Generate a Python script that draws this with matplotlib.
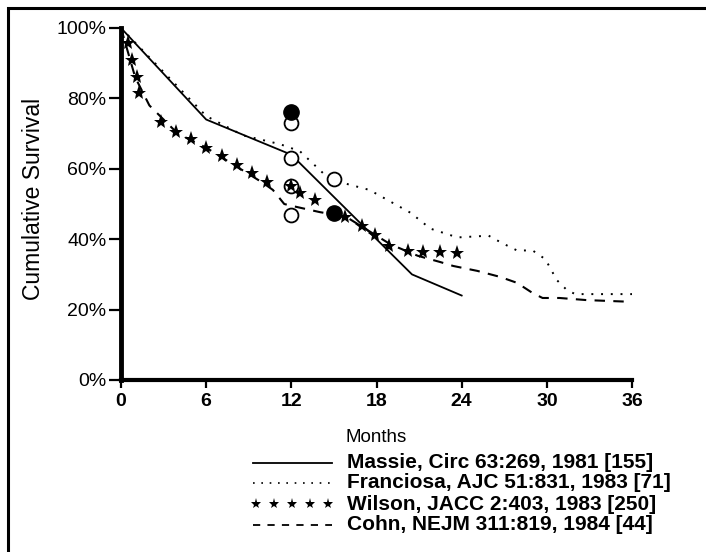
import matplotlib
matplotlib.use("Agg")
import matplotlib.pyplot as plt
import numpy as np
from matplotlib.lines import Line2D
from matplotlib.patches import Rectangle

plt.rcParams['font.family'] = ['Liberation Sans', 'DejaVu Sans']

# Data
massie_m = [0, 6, 12, 20.5, 24]
massie_s = [100, 74, 64, 30, 24]

franc_m = [0, 6, 8.6, 11.2, 12.6, 14.7, 17.5, 20.4, 21.8, 23.7, 25.9, 26.8, 27.9, 29.0, 29.9, 30.7, 31.4, 32.0, 36]
franc_s = [100, 75, 69.5, 67, 65, 57, 54, 47.5, 43, 40.5, 41, 39, 36.8, 36.8, 34.3, 28.4, 25.6, 24.4, 24.4]

wilson_m = [0.5, 0.8, 1.1, 1.3, 2.8, 3.9, 4.9, 6.0, 7.1, 8.2, 9.2, 10.3, 12.0, 12.6, 13.7,
            15.8, 17.0, 17.9, 18.9, 20.2, 21.3, 22.5, 23.7]
wilson_s = [95.7, 91, 86, 81.6, 73.3, 70.4, 68.5, 65.9, 63.6, 61, 58.8, 56.3, 55, 53, 51,
            46.3, 43.7, 41.2, 38, 36.6, 36.4, 36.4, 36]

cohn_m = [0, 1, 2, 4, 6, 8, 10, 10.7, 11.5, 12, 14, 15, 16, 18, 19, 20.9, 22.5, 23.4, 25.1, 26.7, 27.9, 29.0, 29.7, 30.9, 32.8, 36]
cohn_s = [100, 86, 78, 70, 66, 61, 56, 54, 50, 49.5, 47.7, 47, 46, 41, 38.5, 35.3, 33.5, 32.4, 31, 29.3, 27.6, 24.7, 23.3, 23.3, 22.7, 22.2]

open_m = [12, 12, 12, 15]
open_s = [73, 63, 47, 57]
halfopen_m = [12]
halfopen_s = [55]
filled_m = [12, 15]
filled_s = [76, 47.4]

x_ticks = [0, 6, 12, 18, 24, 30, 36]
y_ticks = [0, 20, 40, 60, 80, 100]
y_labels = ["0%", "20%", "40%", "60%", "80%", "100%"]
legend_labels = ["Massie, Circ 63:269, 1981 [155]",
                 "Franciosa, AJC 51:831, 1983 [71]",
                 "Wilson, JACC 2:403, 1983 [250]",
                 "Cohn, NEJM 311:819, 1984 [44]"]

W, H = 706, 552
fig = plt.figure(figsize=(W / 100, H / 100), dpi=100)
ax = fig.add_axes([121 / W, 1 - 380 / H, (632 - 121) / W, (380 - 28) / H])

# outer frame
fig.patches.append(Rectangle((8 / W, -0.05), 1.2, 1 - 8 / H + 0.05, transform=fig.transFigure,
                             fill=False, edgecolor='black', linewidth=2.2, zorder=0))

ax.plot(massie_m, massie_s, '-', color='black', lw=1.3, zorder=3)
ax.plot(franc_m, franc_s, linestyle=(0, (1, 4)), color='black', lw=1.4, zorder=3)
ax.plot(cohn_m, cohn_s, linestyle=(0, (5, 4)), color='black', lw=1.5, zorder=3)
ax.plot(open_m, open_s, 'o', ms=10, mfc='white', mec='black', mew=1.3, zorder=4)
ax.plot(halfopen_m, halfopen_s, 'o', ms=10, mfc='white', mec='black', mew=1.3, zorder=4)
ax.plot(filled_m, filled_s, 'o', ms=11, mfc='black', mec='black', zorder=6)
ax.plot(wilson_m, wilson_s, '*', ms=11, color='black', mew=0, zorder=5, linestyle='none')

ax.set_xlim(0, 36)
ax.set_ylim(0, 100)
ax.set_xticks(x_ticks)
ax.set_xticklabels([str(t) for t in x_ticks], fontsize=14, fontweight='bold')
ax.set_yticks(y_ticks)
ax.set_yticklabels(y_labels, fontsize=14)
ax.spines['top'].set_visible(False)
ax.spines['right'].set_visible(False)
ax.spines['left'].set_linewidth(3.5)
ax.spines['bottom'].set_linewidth(3)
ax.tick_params(axis='y', direction='out', length=9, width=1.6, pad=1.5)
ax.tick_params(axis='x', direction='out', length=6, width=1.6, pad=3)
ax.set_ylabel("Cumulative Survival", fontsize=16.5, va='center')
ax.yaxis.set_label_coords(34 / W, 1 - 199 / H, transform=fig.transFigure)
ax.set_xlabel("Months", fontsize=13.5)
ax.xaxis.set_label_coords(376 / W, 1 - 438 / H, transform=fig.transFigure)
ax.xaxis.label.set_va('center')

# legend drawn manually (pixel layout)
def fx(px):
    return px / W

def fy(py):
    return 1 - py / H

rows = [463, 483, 504, 525]
fig.add_artist(Line2D([fx(253), fx(332)], [fy(rows[0])] * 2, color='black', lw=1.3))
fig.add_artist(Line2D([fx(253), fx(332)], [fy(rows[1])] * 2, color='black', lw=1.2,
                      linestyle=(0, (1, 4))))
fig.add_artist(Line2D(np.linspace(fx(256), fx(328), 5), [fy(rows[2])] * 5, color='black',
                      marker='*', ms=8, mew=0, linestyle='none'))
fig.add_artist(Line2D([fx(253), fx(332)], [fy(rows[3])] * 2, color='black', lw=1.3,
                      linestyle=(0, (4, 4))))
for r, lab in zip(rows, legend_labels):
    fig.text(fx(347), fy(r), lab, fontsize=15, fontweight='bold', va='center', ha='left')

fig.savefig("out.png", dpi=100)
